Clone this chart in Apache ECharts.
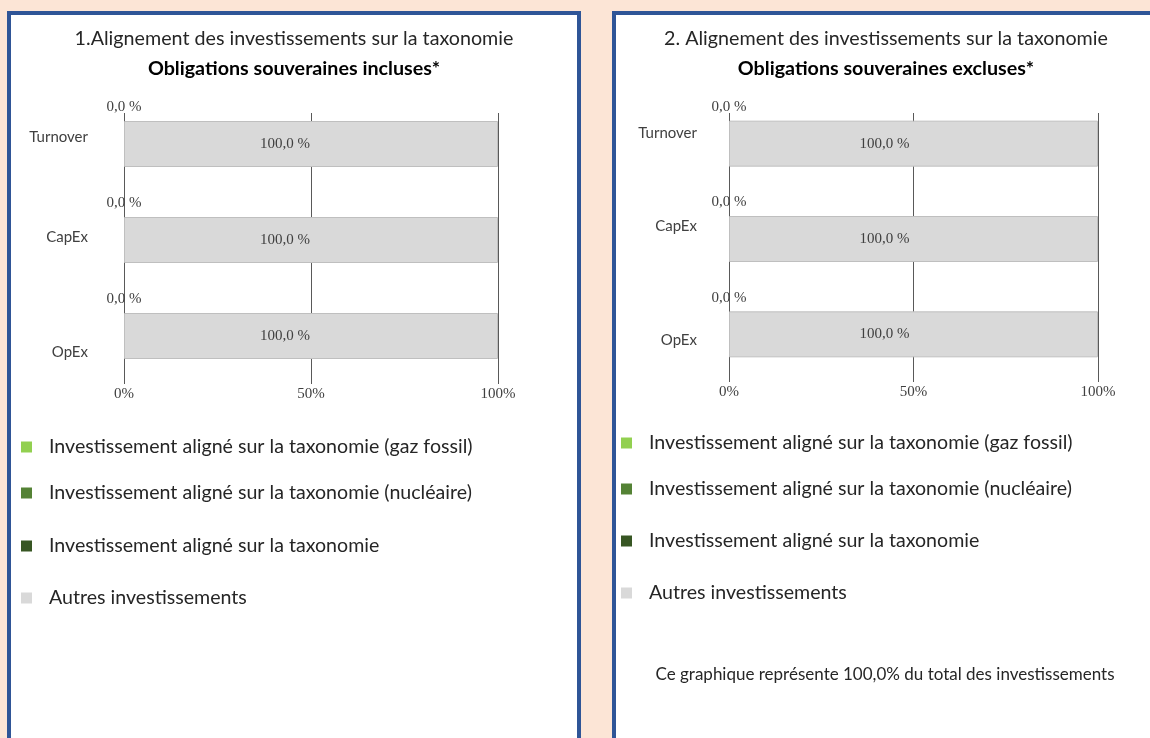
<!DOCTYPE html>
<html>
<head>
<meta charset="utf-8">
<script src="https://cdn.jsdelivr.net/npm/echarts@6/dist/echarts.min.js"></script>
<style>
  html, body { margin: 0; padding: 0; background: #fce5d6; }
  #chart { width: 1150px; height: 738px; }
</style>
</head>
<body>
<div id="chart"></div>
<script>
// catégories (axe vertical)
const categories = ['Turnover', 'CapEx', 'OpEx']
const seriesNames = [
  'Investissement aligné sur la taxonomie (gaz fossil)',
  'Investissement aligné sur la taxonomie (nucléaire)',
  'Investissement aligné sur la taxonomie',
  'Autres investissements'
]
const colors = ['#92d050', '#548235', '#375623', '#d9d9d9']

// 1. obligations souveraines incluses
const gazFossil1 = [0.0, 0.0, 0.0]
const nucleaire1 = [0.0, 0.0, 0.0]
const aligne1 = [0.0, 0.0, 0.0]
const autres1 = [100.0, 100.0, 100.0]

// 2. obligations souveraines excluses
const gazFossil2 = [0.0, 0.0, 0.0]
const nucleaire2 = [0.0, 0.0, 0.0]
const aligne2 = [0.0, 0.0, 0.0]
const autres2 = [100.0, 100.0, 100.0]

const xMin = 0
const xMax = 100
const xStep = 50

const fmt = (v) => v.toFixed(1).replace('.', ',') + ' %'

const sans = 'Lato, "Open Sans", sans-serif'
const serif = '"Liberation Serif", "DejaVu Serif", serif'

// décalage vertical des libellés de catégorie (comme dans le document source)
const shift1 = [-7, -3, 16]
const shift2 = [-11, -13, 6]

const richOf = (shift) => {
  const r = {}
  shift.forEach((d, k) => {
    r['c' + k] = {
      fontFamily: sans,
      fontSize: 15,
      color: '#404040',
      padding: d < 0 ? [0, 0, -2 * d, 0] : [2 * d, 0, 0, 0]
    }
  })
  return r
}

const buildSeries = (g, lists, labelOffset) => lists.map((data, k) => {
  const s = {
    type: 'bar',
    name: seriesNames[k],
    xAxisIndex: g,
    yAxisIndex: g,
    stack: 'total' + g,
    barWidth: 46,
    itemStyle: { color: colors[k] },
    data: data
  }
  if (k === 2) {
    s.label = {
      show: true,
      position: 'top',
      distance: 6,
      formatter: (p) => fmt(p.value),
      fontFamily: serif,
      fontSize: 15,
      color: '#404040'
    }
  }
  if (k === 3) {
    s.itemStyle = { color: colors[k], borderColor: '#bfbfbf', borderWidth: 1 }
    s.label = {
      show: true,
      position: 'inside',
      offset: [labelOffset, 0],
      formatter: (p) => fmt(p.value),
      fontFamily: serif,
      fontSize: 15,
      color: '#404040'
    }
  }
  return s
})

const xAxisOf = (g, tickLen) => ({
  gridIndex: g,
  type: 'value',
  min: xMin,
  max: xMax,
  interval: xStep,
  axisLine: { show: false },
  splitLine: { show: false },
  axisTick: { show: true, inside: true, length: tickLen, lineStyle: { color: '#595959', width: 1 } },
  axisLabel: { formatter: '{value}%', fontFamily: serif, fontSize: 15, color: '#404040', margin: 3 }
})

const yAxisOf = (g, shift, margin) => ({
  gridIndex: g,
  type: 'category',
  inverse: true,
  data: categories,
  axisLine: { show: false },
  axisTick: { show: false },
  axisLabel: {
    margin: margin,
    formatter: (v, i) => '{c' + i + '|' + v + '}',
    rich: richOf(shift)
  }
})

const legendItem = (k, left, top) => ({
  data: [seriesNames[k]],
  left: left,
  top: top,
  orient: 'vertical',
  icon: 'rect',
  itemWidth: 11,
  itemHeight: 11,
  itemStyle: { borderWidth: 0 },
  selectedMode: false,
  textStyle: { fontFamily: sans, fontSize: 19.6, color: '#262626', padding: [0, 0, 0, 12] }
})

const titleItem = (text, x, y, bold, size) => ({
  text: text,
  left: x,
  top: y,
  textAlign: 'center',
  textStyle: { fontFamily: sans, fontSize: size, fontWeight: bold ? 'bold' : 'normal', color: bold ? '#000' : '#262626' }
})

const chart = echarts.init(document.getElementById('chart'))
chart.setOption({
  backgroundColor: '#fce5d6',
  animation: false,
  graphic: [
    { type: 'rect', z: -10, shape: { x: 9, y: 13, width: 570, height: 800 }, style: { fill: '#fff', stroke: '#2f5597', lineWidth: 4 } },
    { type: 'rect', z: -10, shape: { x: 614, y: 13, width: 600, height: 800 }, style: { fill: '#fff', stroke: '#2f5597', lineWidth: 4 } }
  ],
  title: [
    titleItem('1.Alignement des investissements sur la taxonomie', 289, 24, false, 19.7),
    titleItem('Obligations souveraines incluses*', 289, 54, true, 19.7),
    titleItem('2. Alignement des investissements sur la taxonomie', 881, 24, false, 19.7),
    titleItem('Obligations souveraines excluses*', 881, 54, true, 19.7),
    titleItem('Ce graphique représente 100,0% du total des investissements', 880, 661, false, 17)
  ],
  legend: [
    legendItem(0, 16, 432),
    legendItem(1, 16, 478),
    legendItem(2, 16, 531),
    legendItem(3, 16, 583),
    legendItem(0, 616, 428),
    legendItem(1, 616, 474),
    legendItem(2, 616, 526),
    legendItem(3, 616, 578)
  ],
  grid: [
    { left: 124, width: 374, top: 96, height: 288 },
    { left: 729, width: 369, top: 96, height: 286 }
  ],
  xAxis: [xAxisOf(0, 271), xAxisOf(1, 269)],
  yAxis: [yAxisOf(0, shift1, 36), yAxisOf(1, shift2, 32)],
  series: [
    ...buildSeries(0, [gazFossil1, nucleaire1, aligne1, autres1], -26),
    ...buildSeries(1, [gazFossil2, nucleaire2, aligne2, autres2], -29)
  ]
})
</script>
</body>
</html>
